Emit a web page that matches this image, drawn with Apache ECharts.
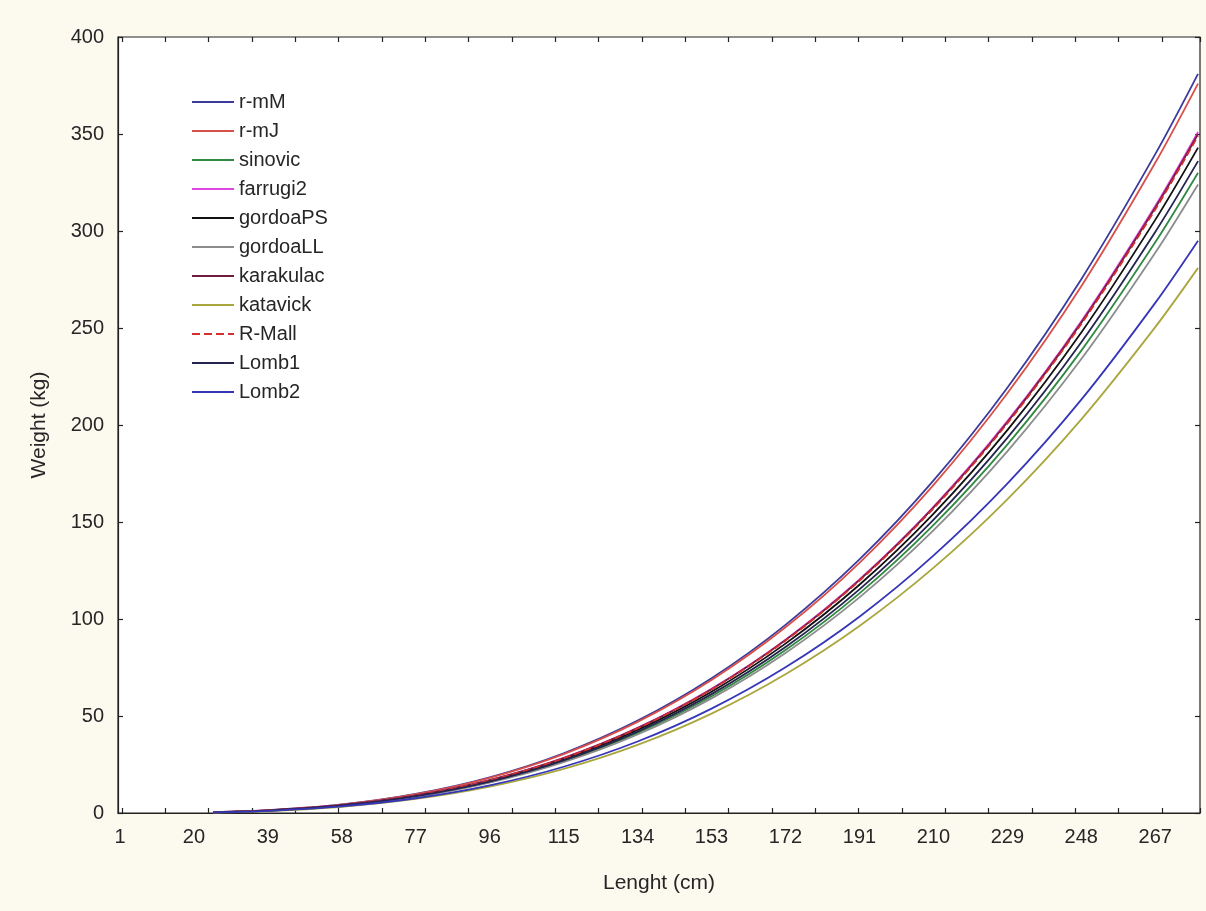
<!DOCTYPE html>
<html>
<head>
<meta charset="utf-8">
<script src="https://cdn.jsdelivr.net/npm/echarts@6/dist/echarts.min.js"></script>
<style>
html,body{margin:0;padding:0;background:#fcf9ee;}
#chart{width:1206px;height:911px;}
</style>
</head>
<body>
<div id="chart"></div>
<script>
// Length categories 1..278 cm
const lengthMin = 1;
const lengthMax = 278;
const lengthLabelStep = 19;

const sampleLengths = [25, 39, 58, 77, 96, 115, 134, 153, 172, 191, 210, 229, 248, 267, 278];

// Weight (kg) read at each sample length
const rmM       = [0.40, 1.41, 4.38, 9.82, 18.40, 30.79, 47.60, 69.48, 96.99, 130.69, 171.30, 219.24, 275.16, 339.61, 381];
const rmJ       = [0.39, 1.39, 4.32, 9.69, 18.16, 30.39, 46.97, 68.57, 95.71, 128.98, 169.05, 216.37, 271.55, 335.15, 376];
const sinovic   = [0.34, 1.22, 3.79, 8.50, 15.94, 26.67, 41.23, 60.18, 84.00, 113.20, 148.37, 189.90, 238.33, 294.15, 330];
const farrugi2  = [0.37, 1.30, 4.03, 9.05, 16.95, 28.37, 43.85, 64.01, 89.35, 120.40, 157.81, 201.98, 253.49, 312.87, 351];
const gordoaPS  = [0.36, 1.27, 3.94, 8.84, 16.56, 27.72, 42.85, 62.55, 87.31, 117.66, 154.21, 197.38, 247.71, 305.74, 343];
const gordoaLL  = [0.34, 1.20, 3.72, 8.35, 15.65, 26.19, 40.48, 59.09, 82.48, 111.14, 145.67, 186.44, 233.99, 288.80, 324];
const karakulac = [0.37, 1.30, 4.02, 9.02, 16.90, 28.29, 43.73, 63.83, 89.10, 120.06, 157.36, 201.40, 252.77, 311.98, 350];
const katavick  = [0.29, 1.04, 3.23, 7.24, 13.57, 22.71, 35.11, 51.25, 71.53, 96.39, 126.34, 161.70, 202.94, 250.47, 281];
const rMall     = [0.36, 1.29, 4.01, 8.99, 16.85, 28.21, 43.60, 63.65, 88.84, 119.72, 156.91, 200.83, 252.05, 311.08, 349];
const lomb1     = [0.35, 1.25, 3.86, 8.66, 16.23, 27.16, 41.98, 61.28, 85.53, 115.26, 151.07, 193.35, 242.66, 299.50, 336];
const lomb2     = [0.31, 1.09, 3.39, 7.60, 14.25, 23.84, 36.85, 53.80, 75.10, 101.19, 132.63, 169.75, 213.05, 262.95, 295];

const seriesNames = ['r-mM', 'r-mJ', 'sinovic', 'farrugi2', 'gordoaPS', 'gordoaLL', 'karakulac', 'katavick', 'R-Mall', 'Lomb1', 'Lomb2'];
const seriesValues = [rmM, rmJ, sinovic, farrugi2, gordoaPS, gordoaLL, karakulac, katavick, rMall, lomb1, lomb2];
const seriesColors = ['#3b3b9e', '#d8504a', '#2f8a3f', '#e046e0', '#111111', '#8c8c8c', '#6e1e3c', '#a9a63e', '#d23030', '#24244e', '#3636b8'];
const seriesDash = ['solid', 'solid', 'solid', 'solid', 'solid', 'solid', 'solid', 'solid', 'dashed', 'solid', 'solid'];

const yTicks = {min: 0, max: 400, interval: 50};

const categories = [];
for (let l = lengthMin; l <= lengthMax; l++) categories.push(String(l));

const chart = echarts.init(document.getElementById('chart'), null, {renderer: 'canvas'});
const font = 'Liberation Sans, Arial, sans-serif';
const textColor = '#262626';

const series = seriesNames.map((name, i) => ({
  name: name,
  type: 'line',
  xAxisIndex: 0,
  yAxisIndex: 0,
  showSymbol: false,
  symbol: 'none',
  smooth: 0.3,
  data: sampleLengths.map((l, j) => [String(l), seriesValues[i][j]]),
  lineStyle: {color: seriesColors[i], width: 1.8, type: seriesDash[i]},
  itemStyle: {color: seriesColors[i]},
  z: 3
}));

chart.setOption({
  backgroundColor: '#fcf9ee',
  animation: false,
  textStyle: {fontFamily: font},
  grid: [
    {left: 118, right: 6, top: 37, bottom: 98, show: true, backgroundColor: '#ffffff', borderColor: '#222', borderWidth: 1.2},
    {left: 122, right: 6, top: 37, bottom: 98, show: false}
  ],
  legend: {
    show: true,
    orient: 'vertical',
    left: 186,
    top: 87,
    itemWidth: 42,
    itemHeight: 14,
    itemGap: 9,
    data: seriesNames,
    itemStyle: {opacity: 0},
    textStyle: {fontFamily: font, fontSize: 20, color: textColor, lineHeight: 20}
  },
  xAxis: [
    {
      type: 'category', gridIndex: 0, data: categories, boundaryGap: true, position: 'bottom',
      name: 'Lenght (cm)', nameLocation: 'middle', nameGap: 60,
      nameTextStyle: {fontFamily: font, fontSize: 21, color: textColor},
      axisLine: {show: true, lineStyle: {color: '#222', width: 1.2}},
      axisTick: {show: false},
      axisLabel: {
        interval: 0, showMaxLabel: false, showMinLabel: true,
        formatter: (v, idx) => (idx % lengthLabelStep === 0 ? v : ''),
        fontFamily: font, fontSize: 20, color: textColor, margin: 14
      },
      splitLine: {show: false}
    },
    {
      type: 'value', gridIndex: 1, position: 'bottom', min: 0, max: 24.88, interval: 1,
      axisLine: {show: false}, axisLabel: {show: false}, splitLine: {show: false},
      axisTick: {show: true, inside: true, length: 5, lineStyle: {color: '#222', width: 1.2}}
    },
    {
      type: 'value', gridIndex: 1, position: 'top', min: 0, max: 24.88, interval: 1,
      axisLine: {show: false}, axisLabel: {show: false}, splitLine: {show: false},
      axisTick: {show: true, inside: true, length: 5, lineStyle: {color: '#222', width: 1.2}}
    }
  ],
  yAxis: [
    {
      type: 'value', gridIndex: 0, position: 'left', min: yTicks.min, max: yTicks.max, interval: yTicks.interval,
      name: 'Weight (kg)', nameLocation: 'middle', nameGap: 68, nameRotate: 90,
      nameTextStyle: {fontFamily: font, fontSize: 21, color: textColor},
      axisLine: {show: true, lineStyle: {color: '#222', width: 1.2}},
      axisTick: {show: true, inside: true, length: 5, lineStyle: {color: '#222', width: 1.2}},
      axisLabel: {fontFamily: font, fontSize: 20, color: textColor, margin: 14},
      splitLine: {show: false}
    },
    {
      type: 'value', gridIndex: 0, position: 'right', min: yTicks.min, max: yTicks.max, interval: yTicks.interval,
      axisLine: {show: false}, axisLabel: {show: false}, splitLine: {show: false},
      axisTick: {show: true, inside: true, length: 5, lineStyle: {color: '#222', width: 1.2}}
    },
    {
      type: 'value', gridIndex: 1, min: 0, max: 1, show: false
    }
  ],
  series: series
});
</script>
</body>
</html>
